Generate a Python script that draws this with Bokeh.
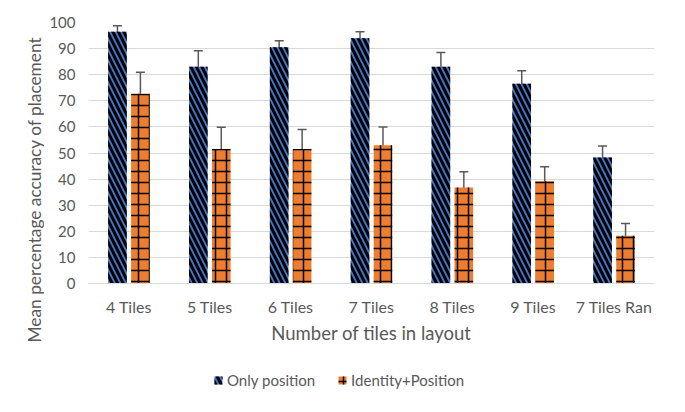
import math
from bokeh.plotting import figure
from bokeh.layouts import column, row
from bokeh.models import (ColumnDataSource, FactorRange, Range1d, Whisker, TeeHead,
                          SingleIntervalTicker, Legend, LegendItem, Label)
from bokeh.transform import dodge
from bokeh.embed import file_html
from bokeh.resources import INLINE

categories = ["4 Tiles", "5 Tiles", "6 Tiles", "7 Tiles", "8 Tiles", "9 Tiles", "7 Tiles Ran"]
only_position = [96.5, 83.0, 90.5, 94.0, 83.0, 76.5, 48.3]
only_position_err = [2.3, 6.2, 2.5, 2.5, 5.5, 5.0, 4.4]
identity_position = [72.7, 51.5, 51.5, 53.0, 36.8, 39.2, 18.3]
identity_position_err = [8.2, 8.4, 7.5, 7.0, 6.0, 5.5, 4.7]
y_title = "Mean percentage accuracy of placement"
x_title = "Number of tiles in layout"
series_names = ["Only position", "Identity+Position"]

FONT = "Lato"
GRAY = "#595959"
BLUE = "#4472C4"
ORANGE = "#ED7D31"
STYLE1 = dict(fill_color=BLUE, line_color=None, hatch_pattern="left_diagonal_line",
              hatch_color="black", hatch_weight=3, hatch_scale=11)
STYLE2 = dict(fill_color=ORANGE, line_color=None, hatch_pattern="cross",
              hatch_color="black", hatch_weight=1.5, hatch_scale=11)

src = ColumnDataSource(dict(
    cat=categories,
    op=only_position,
    op_lo=[v - e for v, e in zip(only_position, only_position_err)],
    op_hi=[v + e for v, e in zip(only_position, only_position_err)],
    ip=identity_position,
    ip_lo=[v - e for v, e in zip(identity_position, identity_position_err)],
    ip_hi=[v + e for v, e in zip(identity_position, identity_position_err)],
))

LEFT_W = 44
p = figure(x_range=FactorRange(*categories), y_range=Range1d(0, 100),
           width=669 - LEFT_W, height=356,
           min_border_left=88 - LEFT_W, min_border_top=22, min_border_right=15,
           min_border_bottom=73,
           output_backend="svg", toolbar_location=None)
p.outline_line_color = None
p.background_fill_color = "white"
p.border_fill_color = "white"

OFF = 0.142
W = 0.23
p.vbar(x=dodge("cat", -OFF, range=p.x_range), top="op", width=W, source=src, **STYLE1)
p.vbar(x=dodge("cat", OFF, range=p.x_range), top="ip", width=W, source=src, **STYLE2)

for off, lo, hi in [(-OFF, "op_lo", "op_hi"), (OFF, "ip_lo", "ip_hi")]:
    w = Whisker(source=src, base=dodge("cat", off, range=p.x_range), lower=lo, upper=hi,
                dimension="height", line_color=GRAY, line_width=1.5,
                upper_head=TeeHead(size=9, line_color=GRAY, line_width=1.5),
                lower_head=TeeHead(size=9, line_color=GRAY, line_width=1.5))
    p.add_layout(w)

p.yaxis.ticker = SingleIntervalTicker(interval=10)
p.ygrid.ticker = SingleIntervalTicker(interval=10)
p.ygrid.grid_line_color = "#d9d9d9"
p.ygrid.grid_line_width = 1.2
p.xgrid.grid_line_color = None

for ax in (p.xaxis, p.yaxis):
    ax.major_tick_line_color = None
    ax.minor_tick_line_color = None
    ax.major_tick_out = 0
    ax.major_tick_in = 0
    ax.minor_tick_out = 0
    ax.minor_tick_in = 0
    ax.major_label_text_font = FONT
    ax.major_label_text_color = GRAY
    ax.axis_label_text_font = FONT
    ax.axis_label_text_font_style = "normal"
    ax.axis_label_text_color = GRAY
p.yaxis.major_label_text_font_size = "15px"
p.xaxis.major_label_text_font_size = "16px"
p.yaxis.axis_line_color = None
p.xaxis.axis_line_color = "#d9d9d9"
p.xaxis.axis_line_width = 1.2
p.xaxis.axis_label = x_title
p.xaxis.axis_label_text_font_size = "18.5px"
p.yaxis.major_label_standoff = 13
p.xaxis.major_label_standoff = 13
p.xaxis.axis_label_standoff = 3

# strip at the left holding the y-axis title
yl = figure(width=LEFT_W, height=404, x_range=Range1d(0, 1), y_range=Range1d(0, 1),
            x_axis_type=None, y_axis_type=None, min_border=0,
            output_backend="svg", toolbar_location=None)
yl.outline_line_color = None
yl.grid.visible = False
yl.border_fill_color = "white"
yl.add_layout(Label(x=33.5, y=215, x_units="screen", y_units="screen", text=y_title,
                    angle=math.pi / 2, text_align="center", text_baseline="middle",
                    text_font=FONT, text_font_size="17.3px", text_color=GRAY))

# legend strip below the chart (same data, drawn out of its visible range)
lg = figure(width=669 - LEFT_W, height=48, x_range=FactorRange(*categories),
            y_range=Range1d(1000, 1001),
            x_axis_type=None, y_axis_type=None, min_border=0,
            output_backend="svg", toolbar_location=None)
lg.outline_line_color = None
lg.grid.visible = False
lg.border_fill_color = "white"
l1 = lg.vbar(x="cat", top="op", width=W, source=src, **STYLE1)
l2 = lg.vbar(x="cat", top="ip", width=W, source=src, **STYLE2)
legend = Legend(items=[LegendItem(label=series_names[0], renderers=[l1]),
                       LegendItem(label=series_names[1], renderers=[l2])],
                orientation="horizontal", location=(125, 15),
                label_text_font=FONT, label_text_font_size="15px",
                label_text_color=GRAY, glyph_width=10, glyph_height=10,
                spacing=22, label_standoff=4, border_line_color=None,
                background_fill_alpha=0, margin=0, padding=4)
lg.add_layout(legend, "center")

layout = row(yl, column(p, lg, spacing=0), spacing=0)
open("out.html", "w").write(file_html(layout, INLINE))
